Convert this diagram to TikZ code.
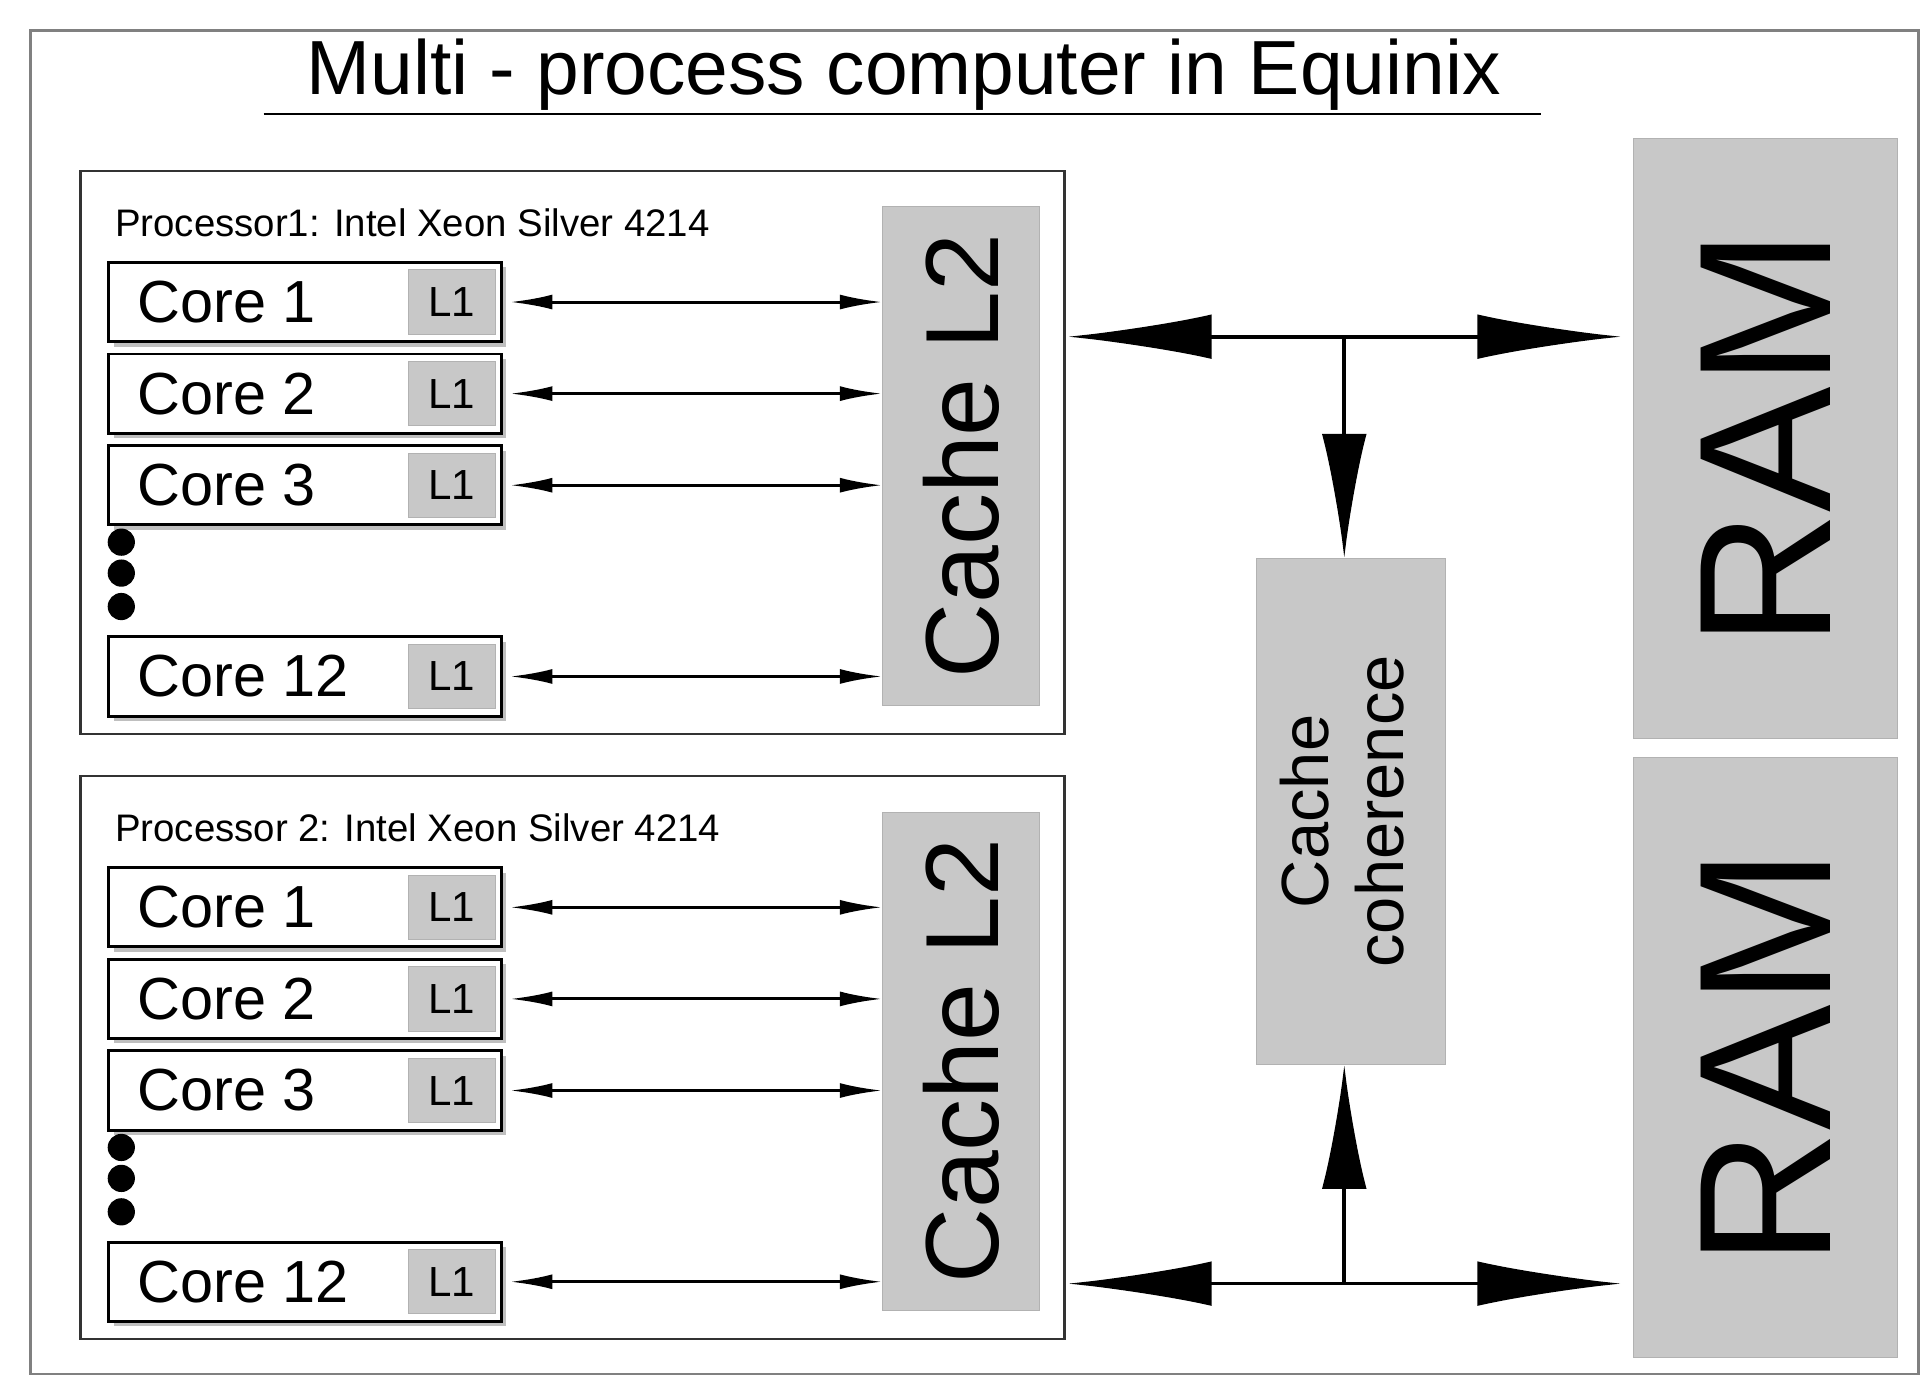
\documentclass[tikz,border=0pt]{standalone}
\usepackage{fontspec}
\setmainfont{Liberation Sans}
\usetikzlibrary{arrows.meta}
\definecolor{boxgray}{RGB}{200,200,200}
\begin{document}
\begin{tikzpicture}[x=0.5pt,y=-0.5pt,
  core/.style={draw=black,line width=1.2pt,fill=white,minimum width=158.5pt,minimum height=32pt,inner sep=0pt},
  lone/.style={draw=gray!60,fill=boxgray,minimum width=35pt,minimum height=26pt,inner sep=0pt,font=\fontsize{17}{17}\selectfont},
  proc/.style={draw=black!80,line width=0.9pt,minimum width=397.5pt,minimum height=227.5pt},
  cache/.style={draw=gray!60,fill=boxgray,minimum width=63.5pt,minimum height=201.5pt,inner sep=0pt},
  ram/.style={draw=gray!60,fill=boxgray,minimum width=106.5pt,minimum height=242.5pt,inner sep=0pt},
  sm/.style={line width=1.2pt,{Latex[length=17pt,width=6pt]}-{Latex[length=17pt,width=6pt]}},
  big/.style={line width=1.5pt,{Latex[length=58pt,width=18pt]}-{Latex[length=58pt,width=18pt]}},
  bigone/.style={line width=1.5pt,-{Latex[length=50pt,width=18pt]}},
  dot/.style={circle,fill=black,minimum size=11pt,inner sep=0pt},
  coretext/.style={font=\fontsize{24}{24}\selectfont,anchor=west}
]
\useasboundingbox (0,0) rectangle (1560,1123);
\draw[gray,line width=1.2pt] (25,25) rectangle (1550,1110);
\node[font=\fontsize{31}{31}\selectfont] (title) at (730,60) {Multi - process computer in Equinix};
\draw[line width=0.8pt] (213,92) -- (1245,92);

\foreach \p/\dy/\lab in {1/0/Processor1: Intel Xeon Silver 4214, 2/489/Processor 2: Intel Xeon Silver 4214}{
  \node[proc] (proc\p) at (462.5,365.5+\dy) {};
  \node[anchor=west,font=\fontsize{15.5}{15.5}\selectfont] (pl\p) at (86,180+\dy) {\lab};
  \node[cache] (cache\p) at (776.5,368.5+\dy) {\rotatebox{90}{\fontsize{42}{42}\selectfont Cache L2}};
  \foreach \c/\y/\t in {a/244/Core 1, b/318/Core 2, c/392/Core 3, d/546.5/Core 12}{
    \fill[gray!50] (92,\y-28+\dy) rectangle (409,\y+36+\dy);
    \node[core] (core\p\c) at (246.5,\y+\dy) {};
    \node[coretext] (ct\p\c) at (104,\y+\dy) {\t};
    \node[lone] (l\p\c) at (365,\y+\dy) {L1};
    \draw[sm] ([xshift=3pt]core\p\c.east) -- (cache\p.west |- core\p\c.east);
  }
  \node[dot] (d\p a) at (98,438+\dy) {};
  \node[dot] (d\p b) at (98,463+\dy) {};
  \node[dot] (d\p c) at (98,490+\dy) {};
}

\node[ram] (ram1) at (1426.5,354.5) {\rotatebox{90}{\fontsize{76}{76}\selectfont RAM}};
\node[ram] (ram2) at (1426.5,854.5) {\rotatebox{90}{\fontsize{76}{76}\selectfont RAM}};
\node[cache,minimum width=76.5pt,minimum height=204.5pt] (coh) at (1091.5,655.5)
  {\rotatebox{90}{\fontsize{27}{30}\selectfont\begin{tabular}{c}Cache\\coherence\end{tabular}}};

\coordinate (j1) at (1086,272);
\coordinate (j2) at (1086,1037);
\draw[big] ([xshift=1pt]proc1.east |- j1) -- ([xshift=-5pt]ram1.west |- j1);
\draw[bigone] (j1) -- (j1 |- coh.north);
\draw[big] ([xshift=1pt]proc2.east |- j2) -- ([xshift=-5pt]ram2.west |- j2);
\draw[bigone] (j2) -- (j2 |- coh.south);
\end{tikzpicture}
\end{document}
